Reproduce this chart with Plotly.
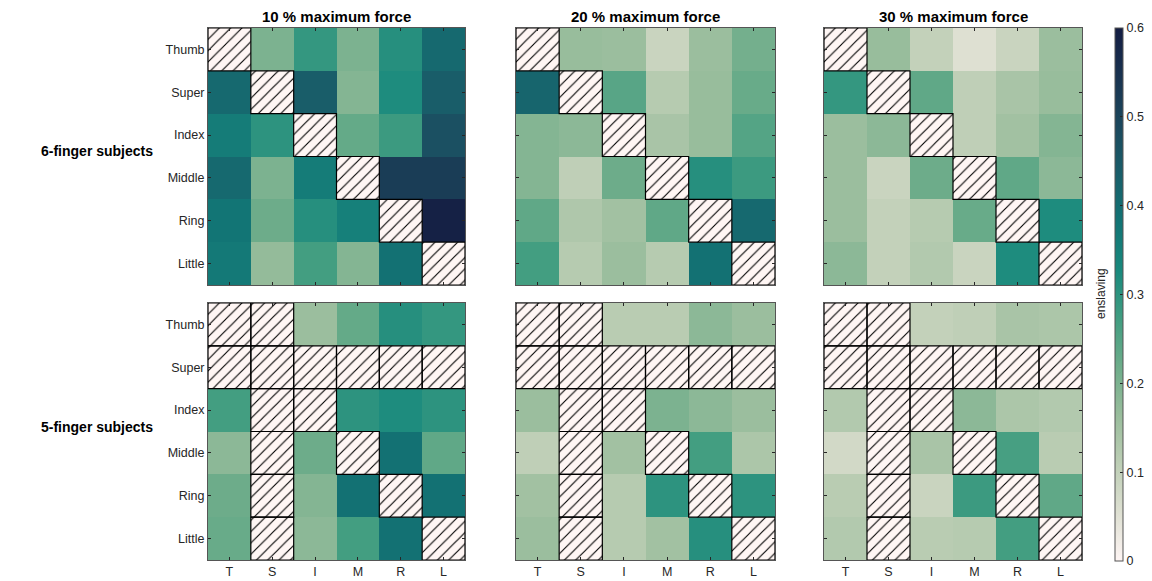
import plotly.graph_objects as go

fingers = ["Thumb", "Super", "Index", "Middle", "Ring", "Little"]
short = ["T", "S", "I", "M", "R", "L"]
col_titles = ["10 % maximum force", "20 % maximum force", "30 % maximum force"]
row_titles = ["6-finger subjects", "5-finger subjects"]
N = None

six_10 = [
    [N, 0.20, 0.29, 0.20, 0.31, 0.41],
    [0.41, N, 0.44, 0.19, 0.32, 0.44],
    [0.36, 0.30, N, 0.23, 0.28, 0.47],
    [0.41, 0.20, 0.36, N, 0.52, 0.52],
    [0.38, 0.22, 0.31, 0.35, N, 0.59],
    [0.37, 0.17, 0.27, 0.19, 0.39, N],
]
six_20 = [
    [N, 0.165, 0.16, 0.09, 0.16, 0.21],
    [0.42, N, 0.245, 0.12, 0.165, 0.225],
    [0.19, 0.18, N, 0.14, 0.165, 0.25],
    [0.19, 0.105, 0.22, N, 0.31, 0.28],
    [0.235, 0.13, 0.15, 0.235, N, 0.41],
    [0.27, 0.12, 0.16, 0.12, 0.39, N],
]
six_30 = [
    [N, 0.165, 0.10, 0.055, 0.09, 0.16],
    [0.29, N, 0.235, 0.105, 0.14, 0.165],
    [0.16, 0.18, N, 0.105, 0.15, 0.19],
    [0.16, 0.09, 0.22, N, 0.235, 0.18],
    [0.16, 0.10, 0.12, 0.225, N, 0.32],
    [0.18, 0.10, 0.125, 0.09, 0.32, N],
]
five_10 = [
    [N, N, 0.16, 0.23, 0.31, 0.29],
    [N, N, N, N, N, N],
    [0.27, N, N, 0.30, 0.32, 0.30],
    [0.18, N, 0.22, N, 0.39, 0.235],
    [0.22, N, 0.19, 0.39, N, 0.39],
    [0.225, N, 0.18, 0.27, 0.39, N],
]
five_20 = [
    [N, N, 0.115, 0.115, 0.18, 0.16],
    [N, N, N, N, N, N],
    [0.16, N, N, 0.20, 0.18, 0.16],
    [0.105, N, 0.15, N, 0.27, 0.135],
    [0.15, N, 0.12, 0.30, N, 0.30],
    [0.16, N, 0.12, 0.15, 0.31, N],
]
five_30 = [
    [N, N, 0.10, 0.105, 0.14, 0.135],
    [N, N, N, N, N, N],
    [0.125, N, N, 0.18, 0.135, 0.125],
    [0.075, N, 0.14, N, 0.265, 0.115],
    [0.115, N, 0.09, 0.28, N, 0.235],
    [0.125, N, 0.115, 0.12, 0.27, N],
]

panels = [[six_10, six_20, six_30], [five_10, five_20, five_30]]

# page has an 8px body margin: draw a figure that fits inside it
OFF = 8
W, H = 1152 - OFF, 581 - OFF


def px(x):
    return (x - OFF) / W


def py(y):
    return 1 - (y - OFF) / H


xpix = [(208, 465), (516, 775), (824, 1082)]
ypix = [(28, 285), (303, 560)]

FONT = "Liberation Sans, Arial, Helvetica, sans-serif"
AX = "#262626"

fig = go.Figure()
idx = 0
for r in range(2):
    for c in range(3):
        idx += 1
        sfx = "" if idx == 1 else str(idx)
        z = panels[r][c]
        fig.add_trace(go.Heatmap(
            z=z, x=list(range(6)), y=list(range(6)),
            coloraxis="coloraxis", xaxis="x" + sfx, yaxis="y" + sfx,
            hoverongaps=False,
        ))
        # hatched (missing) cells
        hx, hy = [], []
        for i in range(6):
            for j in range(6):
                if z[i][j] is None:
                    hx += [j - 0.5, j + 0.5, j + 0.5, j - 0.5, j - 0.5, None]
                    hy += [i - 0.5, i - 0.5, i + 0.5, i + 0.5, i - 0.5, None]
        fig.add_trace(go.Scatter(
            x=hx, y=hy, mode="lines", fill="toself",
            fillcolor="#fff6f4",
            fillpattern=dict(shape="/", bgcolor="#fff6f4", fgcolor="black",
                             size=8, solidity=0.14, fillmode="replace"),
            line=dict(color="black", width=1.2),
            xaxis="x" + sfx, yaxis="y" + sfx, showlegend=False,
            hoverinfo="skip",
        ))
        x0, x1 = xpix[c]
        y0, y1 = ypix[r]
        fig.layout["xaxis" + sfx] = dict(
            domain=[px(x0), px(x1)], anchor="y" + sfx, range=[-0.5, 5.5],
            tickvals=list(range(6)), ticktext=short, showticklabels=(r == 1),
            ticks="inside", ticklen=3, tickcolor=AX, showline=True,
            linecolor="#555555", linewidth=1, mirror="ticks", showgrid=False,
            zeroline=False, automargin=False,
            tickfont=dict(size=12.5, color=AX, family=FONT),
        )
        fig.layout["yaxis" + sfx] = dict(
            domain=[py(y1), py(y0)], anchor="x" + sfx, range=[5.5, -0.5],
            tickvals=list(range(6)), ticktext=fingers, showticklabels=(c == 0),
            ticks="inside", ticklen=3, tickcolor=AX, showline=True,
            linecolor="#555555", linewidth=1, mirror="ticks", showgrid=False,
            zeroline=False, automargin=False,
            tickfont=dict(size=12.5, color=AX, family=FONT),
        )

annotations = []
for c in range(3):
    x0, x1 = xpix[c]
    annotations.append(dict(
        text="<b>%s</b>" % col_titles[c], x=px((x0 + x1) / 2), y=py(17),
        xref="paper", yref="paper", showarrow=False, xanchor="center",
        yanchor="middle", font=dict(size=15, color="black", family=FONT)))
for r in range(2):
    y0, y1 = ypix[r]
    annotations.append(dict(
        text="<b>%s</b>" % row_titles[r], x=px(39), y=py((y0 + y1) / 2 - 5),
        xref="paper", yref="paper", showarrow=False, xanchor="left",
        yanchor="middle", font=dict(size=14, color="black", family=FONT)))
annotations.append(dict(
    text="enslaving", x=px(1101), y=py(294), xref="paper", yref="paper",
    showarrow=False, textangle=-90, xanchor="center", yanchor="middle",
    font=dict(size=12, color=AX, family=FONT)))

fig.update_layout(
    width=W, height=H,
    margin=dict(l=0, r=0, t=0, b=0, autoexpand=False),
    paper_bgcolor="white", plot_bgcolor="white",
    font=dict(family=FONT, color=AX),
    showlegend=False,
    annotations=annotations,
    coloraxis=dict(
        colorscale="tempo", cmin=0, cmax=0.6,
        colorbar=dict(
            x=px(1115), xanchor="left", y=py(28), yanchor="top",
            len=(561 - 28) / H, lenmode="fraction", thickness=8,
            xpad=0, ypad=0,
            outlinecolor="#555555", outlinewidth=1,
            tickvals=[0, 0.1, 0.2, 0.3, 0.4, 0.5, 0.6],
            ticktext=["0", "0.1", "0.2", "0.3", "0.4", "0.5", "0.6"],
            ticks="inside", ticklen=3, tickcolor=AX,
            tickfont=dict(size=12.5, color=AX, family=FONT),
        ),
    ),
)

fig.write_html("out.html")
